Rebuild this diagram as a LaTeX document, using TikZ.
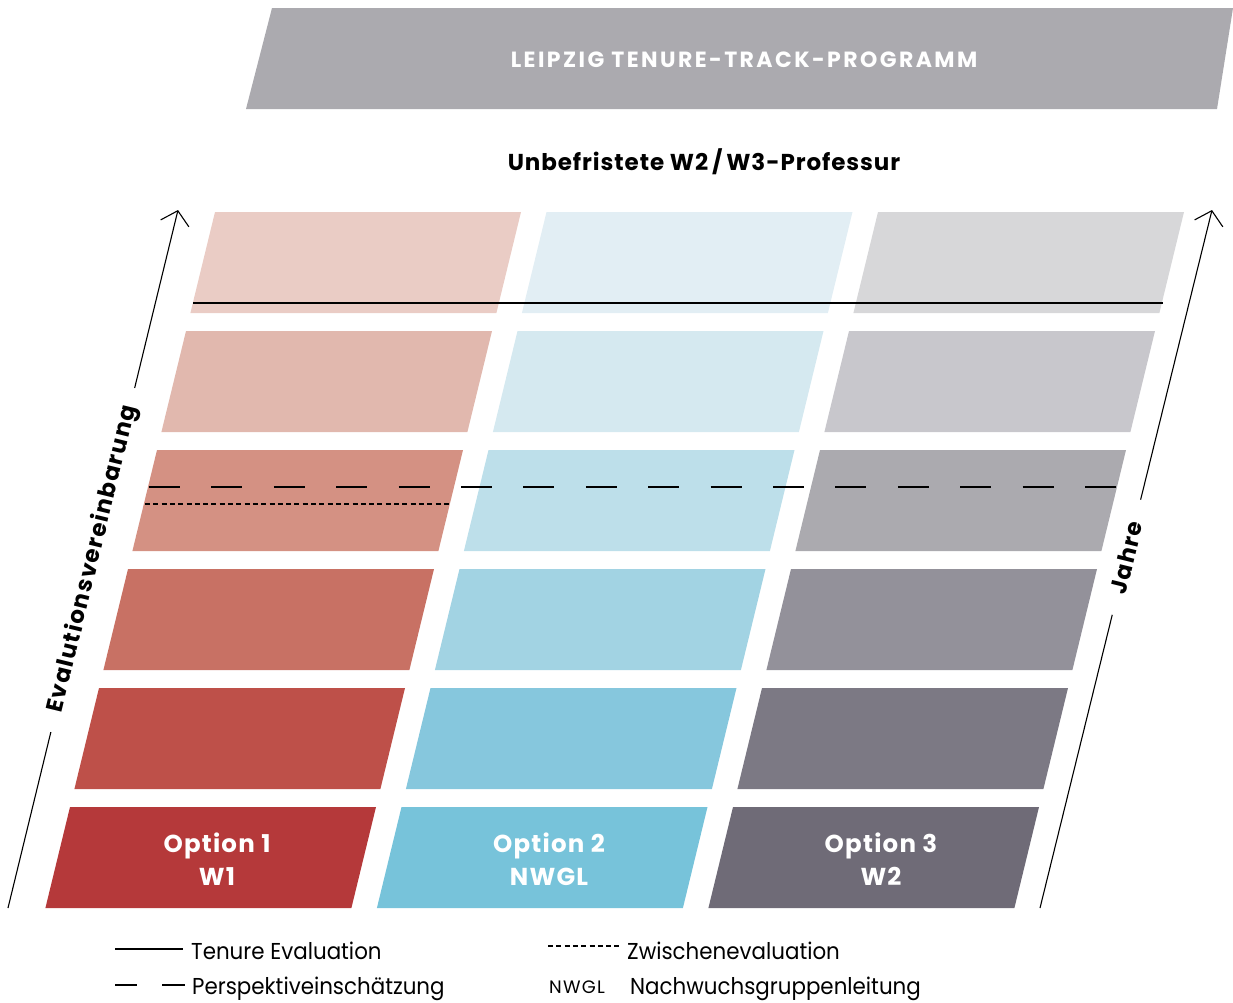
\documentclass[tikz,border=0pt]{standalone}
\usepackage{fontspec}
\setmainfont{Poppins}
\usetikzlibrary{arrows.meta,calc}
\definecolor{c00}{HTML}{B5393A}\definecolor{c01}{HTML}{BE5049}\definecolor{c02}{HTML}{C87164}
\definecolor{c03}{HTML}{D49183}\definecolor{c04}{HTML}{E1B8AE}\definecolor{c05}{HTML}{EACCC5}
\definecolor{c10}{HTML}{77C3DA}\definecolor{c11}{HTML}{86C7DD}\definecolor{c12}{HTML}{A2D3E3}
\definecolor{c13}{HTML}{BDDFEA}\definecolor{c14}{HTML}{D5E9F0}\definecolor{c15}{HTML}{E2EEF4}
\definecolor{c20}{HTML}{6F6B77}\definecolor{c21}{HTML}{7C7984}\definecolor{c22}{HTML}{93919A}
\definecolor{c23}{HTML}{ABAAAF}\definecolor{c24}{HTML}{C8C7CC}\definecolor{c25}{HTML}{D7D7D9}
\definecolor{banner}{HTML}{ABAAAF}
\newcommand\legscale[1]{\scalebox{0.93}[1]{#1}}
\begin{document}
\begin{tikzpicture}[x=1pt,y=-1pt,
  optlabel/.style={text=white,font=\fontsize{24.5}{33}\selectfont\bfseries\addfontfeature{LetterSpace=5},align=center,inner sep=0pt},
  axislabel/.style={font=\fontsize{23}{24}\selectfont\bfseries\addfontfeature{LetterSpace=6},inner sep=0pt,sloped},
  legtext/.style={font=\fontsize{23}{26}\selectfont,anchor=base west,inner sep=0pt},
  axisline/.style={line width=1.1pt},
  barb/.style={-{Straight Barb[length=13pt,width=29pt,line width=1.1pt]}},
  tenure/.style={line width=1.4pt},
  persp/.style={line width=1.6pt,dash pattern=on 31pt off 31.4pt},
  zwisch/.style={line width=1.5pt,dash pattern=on 5pt off 3.3pt}]
\useasboundingbox (0,0) rectangle (1233,1002);
% banner
\fill[banner] (272,8) -- (1233,8) -- (1217,109) -- (246,109) -- cycle;
\node[text=white,font=\fontsize{22}{24}\selectfont\bfseries\addfontfeature{LetterSpace=11}] (title) at (744,60) {LEIPZIG TENURE-TRACK-PROGRAMM};
\node[font=\fontsize{23}{24}\selectfont\bfseries\addfontfeature{LetterSpace=4}] (goal) at (704,162) {Unbefristete W2\,/\,W3-Professur};
% grid
\foreach \c in {0,1,2}{
  \foreach \r in {0,...,5}{
    \pgfmathsetmacro\tx{70+331.5*\c+29*\r}
    \pgfmathsetmacro\ty{807-119*\r}
    \fill[c\c\r] (\tx,\ty) -- ++(306,0) -- ++(-24.6,101) -- ++(-306,0) -- cycle;
    \coordinate (cell-\c-\r) at ({\tx+140.7},{\ty+50.5});
  }
}
\node[optlabel] (o1) at (217,859) {Option 1\\W1};
\node[optlabel] (o2) at (549,859) {Option 2\\NWGL};
\node[optlabel] (o3) at (881,859) {Option 3\\W2};
% evaluation lines
\coordinate (tenL) at (193,303); \coordinate (tenR) at (1163,303);
\draw[tenure] (tenL) -- (tenR);
\coordinate (perL) at (149,487); \coordinate (perR) at (1120,487);
\draw[persp] (perL) -- (perR);
\coordinate (zwL) at (145,504); \coordinate (zwR) at (451,504);
\draw[zwisch] (zwL) -- (zwR);
% axes
\coordinate (lb) at (8,908); \coordinate (lt) at (178,210);
\draw[axisline] (lb) -- ($(lb)!0.252!(lt)$);
\draw[axisline,barb] ($(lb)!0.745!(lt)$) -- (lt);
\path (lb) -- (lt) node[axislabel,pos=0.5] (evl) {Evalutionsvereinbarung};
\coordinate (rb) at (1040,908); \coordinate (rt) at (1212,210);
\draw[axisline] (rb) -- ($(rb)!0.42!(rt)$);
\draw[axisline,barb] ($(rb)!0.585!(rt)$) -- (rt);
\path (rb) -- (rt) node[axislabel,pos=0.502] (jahre) {Jahre};
% legend
\coordinate (l1a) at (115,949); \coordinate (l1b) at (183,949);
\draw[line width=1.4pt] (l1a) -- (l1b);
\node[legtext] (t1) at (191,959) {\legscale{Tenure Evaluation}};
\coordinate (l2a) at (115,985); \coordinate (l2b) at (137,985);
\coordinate (l2c) at (162,985); \coordinate (l2d) at (185,985);
\draw[line width=1.6pt] (l2a) -- (l2b) (l2c) -- (l2d);
\node[legtext] (t2) at (192,994) {\legscale{Perspektiveinschätzung}};
\coordinate (l3a) at (548,946); \coordinate (l3b) at (620,946);
\draw[line width=1.4pt,dash pattern=on 5pt off 3.3pt] (l3a) -- (l3b);
\node[legtext] (t3) at (627,959) {\legscale{Zwischenevaluation}};
\node[legtext,font=\fontsize{18}{20}\selectfont\addfontfeature{LetterSpace=7}] (t4a) at (549,993) {NWGL};
\node[legtext] (t4) at (630,994) {\legscale{Nachwuchsgruppenleitung}};
\end{tikzpicture}
\end{document}
